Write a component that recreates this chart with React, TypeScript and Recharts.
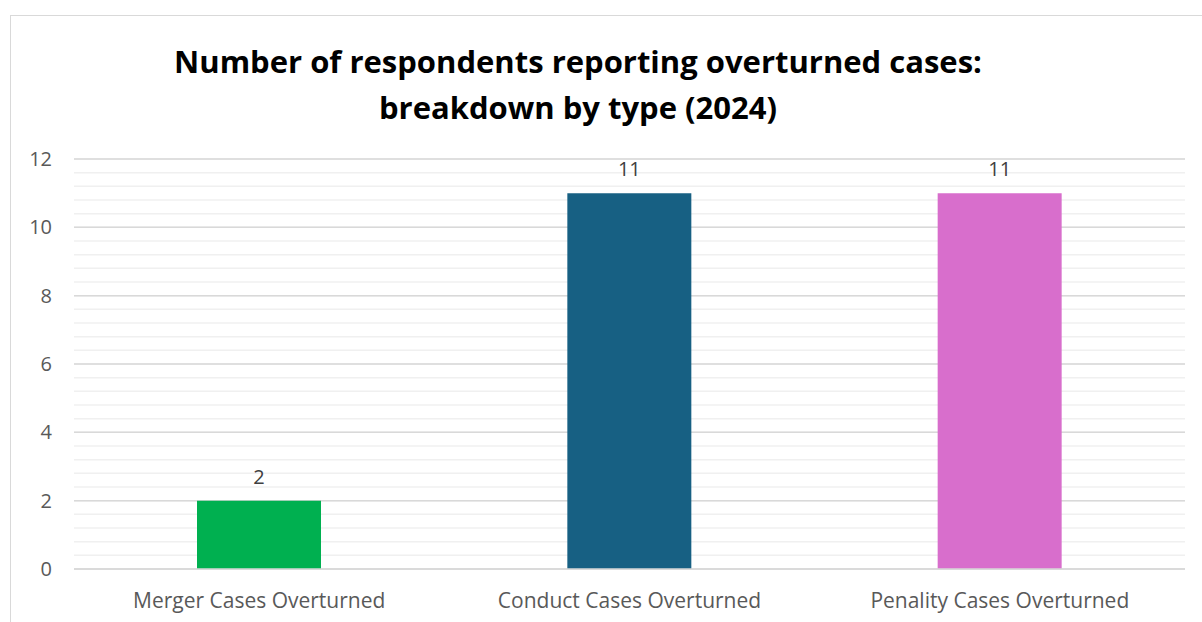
import React from 'react';
import { BarChart, Bar, XAxis, YAxis, CartesianGrid, LabelList, Cell } from 'recharts';

const categories = ['Merger Cases Overturned', 'Conduct Cases Overturned', 'Penality Cases Overturned'];
const values = [2, 11, 11];
const barColors = ['#00B050', '#176083', '#D86ECC'];
const majorTicks = [0, 2, 4, 6, 8, 10, 12];
const minorTicks = [
  0, 0.4, 0.8, 1.2, 1.6, 2, 2.4, 2.8, 3.2, 3.6, 4, 4.4, 4.8, 5.2, 5.6, 6, 6.4, 6.8, 7.2, 7.6, 8,
  8.4, 8.8, 9.2, 9.6, 10, 10.4, 10.8, 11.2, 11.6, 12,
];

const FONT = '"Open Sans", "Noto Sans", sans-serif';

const data = categories.map((name, i) => ({ name, value: values[i] }));

export default function App() {
  return (
    <div
      style={{
        position: 'absolute',
        left: 0,
        top: 0,
        width: 1202,
        height: 622,
        background: '#fff',
        overflow: 'hidden',
        fontFamily: FONT,
      }}
    >
      {/* chart frame: only top and left edges fall inside the picture */}
      <div
        style={{
          position: 'absolute',
          left: 10,
          top: 15,
          width: 1220,
          height: 640,
          borderLeft: '1.5px solid #D9D9D9',
          borderTop: '1.5px solid #D9D9D9',
        }}
      />
      <div
        style={{
          position: 'absolute',
          left: 0,
          top: 38,
          width: 1156,
          textAlign: 'center',
          fontWeight: 700,
          fontSize: 31,
          lineHeight: '46px',
          color: '#000',
        }}
      >
        Number of respondents reporting overturned cases:
        <br />
        breakdown by type (2024)
      </div>
      <div style={{ position: 'absolute', left: 0, top: 0 }}>
        <BarChart
          width={1202}
          height={622}
          data={data}
          margin={{ top: 159, right: 17, bottom: 3, left: 0 }}
          barCategoryGap="33%"
        >
          {/* minor gridlines, then major on top */}
          <CartesianGrid
            yAxisId="left"
            vertical={false}
            horizontalValues={minorTicks}
            stroke="#F0F0F0"
            strokeWidth={1.5}
          />
          <CartesianGrid
            yAxisId="left"
            vertical={false}
            horizontalValues={majorTicks}
            stroke="#D9D9D9"
            strokeWidth={1.5}
          />
          <XAxis
            dataKey="name"
            axisLine={{ stroke: '#D9D9D9', strokeWidth: 1.5 }}
            tickLine={false}
            height={50}
            tickMargin={18}
            tick={{ fill: '#595959', fontSize: 21, fontFamily: FONT }}
            interval={0}
          />
          <YAxis
            yAxisId="left"
            domain={[0, 12]}
            ticks={majorTicks}
            interval={0}
            axisLine={false}
            tickLine={false}
            width={74}
            tickSize={0}
            tickMargin={22}
            tick={{ fill: '#595959', fontSize: 20, fontFamily: FONT }}
          />
          <Bar yAxisId="left" dataKey="value" isAnimationActive={false} barSize={124}>
            {data.map((d, i) => (
              <Cell key={d.name} fill={barColors[i]} />
            ))}
            <LabelList
              dataKey="value"
              position="top"
              offset={17}
              fill="#404040"
              fontSize={20}
              fontFamily={FONT}
            />
          </Bar>
        </BarChart>
      </div>
    </div>
  );
}
